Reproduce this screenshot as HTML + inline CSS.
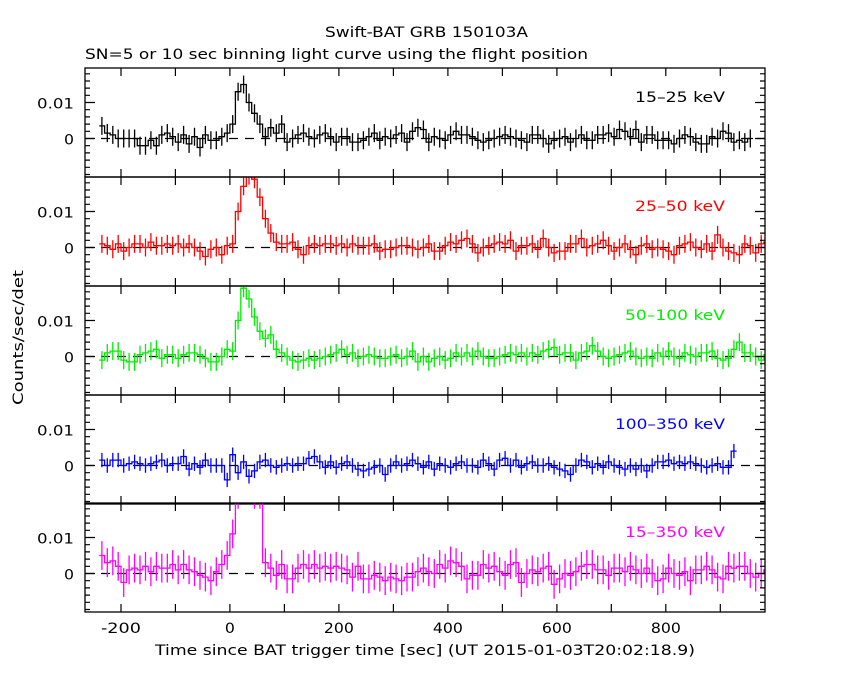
<!DOCTYPE html>
<html><head><meta charset="utf-8"><style>
body{margin:0;background:#fff}
svg{display:block;font-family:"DejaVu Sans","Liberation Sans",sans-serif}
</style></head><body>
<svg id="chart" width="850" height="680" xmlns="http://www.w3.org/2000/svg">
<text x="325" y="37" font-size="14" textLength="203" lengthAdjust="spacingAndGlyphs">Swift-BAT GRB 150103A</text>
<text x="85" y="59" font-size="14" textLength="503" lengthAdjust="spacingAndGlyphs">SN=5 or 10 sec binning light curve using the flight position</text>
<text x="155" y="655" font-size="14" textLength="540" lengthAdjust="spacingAndGlyphs">Time since BAT trigger time [sec] (UT 2015-01-03T20:02:18.9)</text>
<text transform="translate(23,405) rotate(-90)" font-size="14" textLength="135" lengthAdjust="spacingAndGlyphs">Counts/sec/det</text>
<g id="panels"></g>
</svg>
<script>
const binStart = -240, binWidth = 10;
const xTicks = [-200, 0, 200, 400, 600, 800];
const yTicks = [0, 0.01];
const yTickLabels = ["0", "0.01"];
const bandLabels = ["15\u201325 keV", "25\u201350 keV", "50\u2013100 keV", "100\u2013350 keV", "15\u2013350 keV"];
const bandColors = ["#000000", "#ff0000", "#00ee00", "#0000ff", "#ff00ff"];
const bandErrors = [2.5, 2.5, 2.5, 2, 4];
const band1 = [3.5,1.5,1,0,0,0,0,-2,-2,-0.5,-2,1,1.5,0.5,-1,1,-1.5,0.5,-2.5,1,-0.5,-0.5,0.5,
1.5,4,13,15,10,7,4,0.5,3,1.5,4,-1,0,1,
1.5,0.5,0,1,1.5,0.5,-1,0.5,0.5,-1,-1,-0.5,0.5,1.5,-0.5,0.5,0,1,1.5,-1,2,3,
2.5,-1,0.5,0,-0.5,1,2,1,1,0.5,-0.5,-1,-0.5,0,0.5,1,0.5,0,-0.5,-1,1,1,0,-1.5,-0.5,0,0.5,-1,0,1,-0.5,-0.5,1,1,1.5,0.5,2.5,2,0.5,2.5,-1,1,1,-0.5,-0.5,-0.5,-1.5,0,1,0.5,-1,-1.5,-1.5,0.5,0,2,1.5,-1,-0.5,-1,0];
const band2 = [1,0.5,-0.5,1,-1,0,1,1,0,1.5,0.5,0.5,1,0.5,1,0,1,0,-1,-2.5,-0.5,0,-2,
0.5,1,10,17,20,19,14,8,4,1.5,1,1,1.5,-0.5,-2,0.5,1,0.5,1,1,0.5,1,0,1,0.5,0.5,0.5,1,-1,-0.5,-0.5,0,0.5,0.5,0,-0.5,0,1,-1,
-1,0.5,1.5,1,2,2.5,1,-1.5,0,0.5,1,1.5,1,2,-1,0.5,0.5,1,-0.5,2.5,0,-1.5,-1,-1,1,1,2.5,0,0.5,1,2,0.5,-1,0,1,-0.5,-2,0.5,1,-0.5,0,-0.5,-1,-2,0.5,1,1.5,0,-0.5,1,-1,3.5,0,-1,-1.5,-2,1,0.5,-1.5,1,1.5,0,-1,0.5,1,0.5,0,1,0.5];
const band3 = [-1,1,1.5,1.5,-1,-1.5,-1.5,0.5,1,1.5,2,-0.5,0.5,0.5,-0.5,0.5,1,1,0.5,-0.5,-1.5,-1.5,0,
2,1.5,10,19,16,11,7,5,6,2,1,0,-1,-1.5,-1,-0.5,-1,-0.5,0,0.5,1,2,0.5,1,-0.5,0,0.5,0,-0.5,-0.5,0,0.5,-0.5,0,1.5,-1.5,0,-1.5,-0.5,
0,-1,-0.5,1,0,1,0,1.5,0,-0.5,-0.5,0,0.5,1,0.5,1,0,1,0.5,1.5,2,2.5,0.5,1,1,-1,1,1.5,3,1.5,0,-0.5,0,0.5,1,1.5,0,-0.5,0,-0.5,1,0,1.5,0,-0.5,1,0.5,0,1,1,1.5,-0.5,-1,-0.5,2,4,1,1,0,-1,0.5,1,1.5,2,-1.5,0,1,1.5,1,-0.5,-2.5,0];
const band4 = [1.5,0,1.5,1.5,0,0.5,1,0.5,0,0.5,1,1.5,0,0.5,0.5,2.5,-1,0.5,-0.5,1.5,0,0,0,
-4,3,-2,1,-3,-1.5,1,1.5,0,-0.5,0,0.5,0,0.5,0.5,2,2.5,1,-0.5,1,-0.5,0.5,1,0,-1,-1.5,-1,-0.5,0,-2.5,0,1,0,0.5,1.5,0.5,
-0.5,1,-1,0.5,0,-0.5,0.5,1,0,0,-0.5,1.5,0.5,-1,1.5,2,0,1.5,-0.5,0.5,1,0,0,0.5,-0.5,-1,-1.5,-2.5,0,1.5,1,-0.5,0.5,-0.5,1,0,-0.5,-1,0,-1,0,-1.5,0,1,1,1.5,0.5,1,0.5,1,0.5,0,-0.5,0,0.5,-0.5,-0.5,4];
const band5 = [5,3,3.5,2,-2.5,1,1.5,1,2,0.5,2,1.5,1.5,2.5,1,2.5,1,0.5,-0.5,-1,-2,0.5,2.5,
5,11,22,25,24,22,22,3,1.5,-0.5,2.5,-1.5,-1.5,1.5,2.5,1.5,2.5,1.5,2,1.5,2,1.5,1,-1,2,-1.5,-1.5,-0.5,-1,-2,-1,-1.5,-2,-1,-1,0.5,1.5,
0.5,0,2.5,1.5,3.5,3,2,-1.5,-0.5,-0.5,2.5,1.5,2,0.5,-0.5,2.5,3,-2.5,0,1,0.5,1.5,2,-3,-1.5,0,-0.5,0.5,2,2.5,2.5,1,1,-0.5,1.5,1.5,0.5,2,1,0,1.5,0,-2,-1.5,1.5,0,-0.5,0.5,-2,1,1,2,1,-1,-1.5,2,1.5,2,2,0,-1,0,1,2.5,-1.5,1.5,1];
const bands = [band1, band2, band3, band4, band5];

const X0 = 85, X1 = 765, tMin = -266, tMax = 982;
const panelTops = [68, 177, 286, 395, 503];
const panelH = 109;
const yMax = 0.0196, yMin = -0.0107;
const NS = "http://www.w3.org/2000/svg";
function xs(t){ return X0 + (t - tMin) / (tMax - tMin) * (X1 - X0); }
function mk(tag, attrs, parent){ const e = document.createElementNS(NS, tag); for (const k in attrs) e.setAttribute(k, attrs[k]); parent.appendChild(e); return e; }
const root = document.getElementById('panels');
bands.forEach((vals, p) => {
  const top = panelTops[p];
  const ys = v => top + (yMax - v) / (yMax - yMin) * panelH;
  const g = mk('g', {}, root);
  
  
  const cp = mk('clipPath', {id: 'clip' + p}, g);
  mk('rect', {x: X0, y: top, width: X1 - X0, height: panelH}, cp);
  const zl = mk('line', {x1: X0, x2: X1, y1: ys(0), y2: ys(0), stroke: '#000', 'stroke-width': 1.3, 'stroke-dasharray': '9,7'}, g);
  
  
  const sg = mk('g', {'clip-path': 'url(#clip' + p + ')', stroke: bandColors[p], 'stroke-width': 1.3, fill: 'none'}, g);
  
  
  let d = '';
  let eb = '';
  const err = bandErrors[p] / 1000;
  vals.forEach((v, i) => {
    const t0 = binStart + i * binWidth, t1 = t0 + binWidth;
    const val = v / 1000;
    const y = ys(val);
    d += (i === 0 ? 'M' : 'L') + xs(t0).toFixed(1) + ',' + y.toFixed(1) + 'L' + xs(t1).toFixed(1) + ',' + y.toFixed(1);
    const xm = xs((t0 + t1) / 2).toFixed(1);
    eb += 'M' + xm + ',' + ys(val + err).toFixed(1) + 'L' + xm + ',' + ys(val - err).toFixed(1);
  });
  const step = mk('path', {d: d}, sg);
  
  
  const errs = mk('path', {d: eb}, sg);
  
  
  const fr = mk('rect', {x: X0, y: top, width: X1 - X0, height: panelH, fill: 'none', stroke: '#000', 'stroke-width': 1.3}, g);
  
  
  let tk = '';
  for (let t = -200; t <= 900; t += 100) { const x = xs(t).toFixed(1); tk += 'M' + x + ',' + top + 'v8M' + x + ',' + (top + panelH) + 'v-8'; }
  for (let v = -0.01; v <= 0.0196; v += 0.002) { const y = ys(v); if (y < top || y > top + panelH) continue; const major = Math.abs(v) < 1e-9 || Math.abs(v - 0.01) < 1e-9; const L = major ? 10 : 5; tk += 'M' + X0 + ',' + y.toFixed(1) + 'h' + L + 'M' + X1 + ',' + y.toFixed(1) + 'h-' + L; }
  const ticks = mk('path', {d: tk, stroke: '#000', 'stroke-width': 1.2, fill: 'none'}, g);
  
  
  yTicks.forEach((v, i) => {
    const lbl = yTickLabels[i];
    const tl = mk('text', {x: 74, y: ys(v) + 6, 'text-anchor': 'end', 'font-size': 14, textLength: lbl.length > 1 ? 37 : 10, lengthAdjust: 'spacingAndGlyphs'}, g);
    tl.textContent = lbl;
    
    
  });
  const bl = mk('text', {x: 725, y: top + 34, 'text-anchor': 'end', 'font-size': 14, fill: bandColors[p], textLength: bandLabels[p].length * 10, lengthAdjust: 'spacingAndGlyphs'}, g);
  bl.textContent = bandLabels[p];
  
  
});
xTicks.forEach(t => {
  const s = String(t);
  const tl = mk('text', {x: xs(t), y: 633, 'text-anchor': 'middle', 'font-size': 14, textLength: s.length * 10, lengthAdjust: 'spacingAndGlyphs'}, root);
  tl.textContent = s;
  
  
});
</script>
</body></html>
